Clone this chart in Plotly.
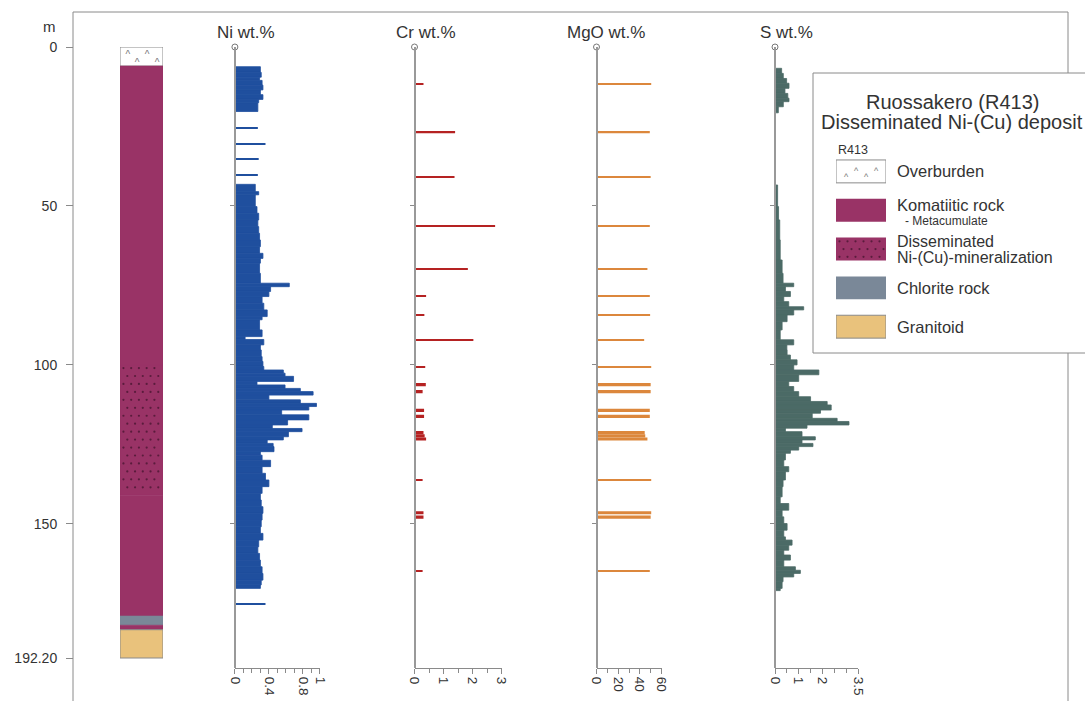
import plotly.graph_objects as go

W, H = 1085, 701


def px(x):
    return x / W


def py(y):
    return 1 - y / H


# ---------------- data ----------------
depth_tickvals = [0, 50, 100, 150, 192.2]
depth_ticktext = ["0", "50", "100", "150", "192.20"]

litho_unit = ["Overburden", "Komatiitic rock", "Disseminated Ni-(Cu)-mineralization",
              "Komatiitic rock", "Chlorite rock", "Komatiitic rock", "Granitoid"]
litho_from = [0.0, 6.0, 100.0, 141.0, 179.0, 181.9, 183.3]
litho_to = [6.0, 100.0, 141.0, 179.0, 181.9, 183.3, 192.2]

# Ni wt.%: upper and lower continuous sections + single samples
ni_top_upper = [6.2, 8.0, 9.5, 10.5, 12.0, 13.5, 15.0, 16.5, 17.5]
ni_wt_upper = [0.30, 0.31, 0.29, 0.32, 0.33, 0.30, 0.33, 0.28, 0.27]
ni_end_upper = 20.3
ni_top_lower = [43.2, 45.5, 46.5, 50.2, 52.3, 54.4, 56.5, 58.6, 60.7, 62.8, 64.9, 66.5,
                68.0, 71.2, 74.3, 75.4, 76.9, 78.5, 80.6, 82.7, 84.8, 85.8, 89.0, 91.1,
                92.0, 93.7, 95.3, 97.4, 98.9, 100.5, 101.6, 102.6, 103.6, 105.2, 106.3,
                107.4, 108.4, 109.5, 111.0, 112.1, 113.1, 114.2, 115.7, 117.3, 118.9,
                120.0, 121.0, 122.6, 123.6, 124.7, 125.7, 127.3, 128.4, 130.0, 132.0,
                134.1, 136.2, 138.3, 140.4, 142.5, 144.6, 146.7, 148.8, 150.9, 153.0,
                155.1, 157.2, 159.3, 161.4, 163.5, 165.6, 167.7, 169.2]
ni_wt_lower = [0.24, 0.28, 0.24, 0.26, 0.28, 0.27, 0.28, 0.29, 0.30, 0.29, 0.33, 0.30,
               0.29, 0.30, 0.64, 0.42, 0.40, 0.32, 0.34, 0.38, 0.32, 0.29, 0.32, 0.12,
               0.34, 0.30, 0.31, 0.32, 0.33, 0.34, 0.57, 0.59, 0.69, 0.26, 0.59,
               0.77, 0.92, 0.40, 0.77, 0.96, 0.87, 0.55, 0.87, 0.62, 0.44,
               0.79, 0.63, 0.57, 0.38, 0.45, 0.46, 0.30, 0.32, 0.42, 0.32,
               0.36, 0.40, 0.32, 0.30, 0.31, 0.33, 0.32, 0.31, 0.30, 0.33,
               0.28, 0.27, 0.29, 0.30, 0.32, 0.33, 0.31, 0.30]
ni_end_lower = 170.3
ni_single_from = [25.25, 30.25, 35.15, 40.15, 175.15]
ni_single_to = [25.55, 30.55, 35.45, 40.45, 175.45]
ni_single_wt = [0.27, 0.36, 0.28, 0.27, 0.36]

# Cr and MgO wt.% (same assay intervals)
chem_from = [11.4, 26.7, 40.6, 56.0, 69.6, 78.1, 84.1, 91.9, 100.5, 105.7,
             107.9, 113.8, 115.7, 120.8, 121.8, 122.8, 135.95, 146.0, 147.4, 164.55]
chem_to = [11.8, 27.1, 41.0, 56.4, 70.0, 78.5, 84.5, 92.3, 100.9, 106.7,
           108.9, 114.8, 116.7, 121.8, 122.8, 123.8, 136.35, 147.0, 148.4, 164.95]
cr_wt = [0.31, 1.40, 1.38, 2.78, 1.84, 0.40, 0.34, 2.03, 0.37, 0.39,
         0.28, 0.33, 0.33, 0.31, 0.35, 0.40, 0.28, 0.31, 0.31, 0.28]
mgo_wt = [50.5, 49.2, 50.0, 49.2, 47.0, 49.2, 49.5, 44.0, 50.5, 50.0,
          50.0, 49.2, 49.2, 44.5, 45.0, 47.0, 50.5, 50.5, 50.0, 49.2]

# S wt.%
s_top_upper = [6.7, 8.3, 9.9, 11.4, 13.0, 14.6, 16.1, 17.2, 18.8]
s_wt_upper = [0.28, 0.35, 0.49, 0.59, 0.42, 0.54, 0.59, 0.35, 0.14]
s_end_upper = 20.7
s_top_lower = [43.4, 50.2, 54.4, 60.7, 67.0, 71.2, 74.3, 75.4, 76.9, 78.5, 80.1, 81.7,
               82.7, 84.3, 86.4, 89.0, 92.1, 93.7, 95.3, 96.9, 98.4, 100.0, 101.6,
               103.1, 105.2, 106.8, 108.4, 110.0, 111.5, 112.6, 114.2, 115.2, 116.8,
               117.8, 118.9, 119.9, 121.0, 122.6, 123.6, 124.7, 125.7, 126.8, 127.8,
               129.9, 132.0, 133.6, 136.2, 138.3, 141.5, 143.6, 145.7, 147.8, 149.9,
               152.0, 154.1, 155.1, 156.7, 158.3, 159.8, 161.4, 163.5, 164.6, 165.6,
               166.7, 168.2, 170.3]
s_wt_lower = [0.11, 0.15, 0.20, 0.22, 0.30, 0.34, 0.79, 0.44, 0.65, 0.37, 0.58, 1.21,
              0.79, 0.51, 0.30, 0.22, 0.79, 0.50, 0.51, 0.65, 0.93, 0.79, 1.85,
              1.00, 0.58, 0.79, 1.00, 1.50, 2.20, 2.37, 1.92, 1.57, 2.62,
              3.12, 1.35, 0.44, 1.14, 1.70, 1.14, 1.60, 1.00, 0.65, 0.44,
              0.37, 0.58, 0.44, 0.34, 0.30, 0.22, 0.58, 0.30, 0.37, 0.51,
              0.37, 0.44, 0.72, 0.58, 0.37, 0.65, 0.37, 0.86, 1.07, 0.79,
              0.34, 0.30, 0.22]
s_end_lower = 171.0

legend_units = ["Overburden", "Komatiitic rock", "Disseminated", "Chlorite rock", "Granitoid"]

# ---------------- styles ----------------
FONT = "Liberation Sans, Arial, Helvetica, sans-serif"
TXT = "#333333"
AXC = "#8a8a8a"
litho_color = {"Overburden": "#ffffff", "Komatiitic rock": "#993366",
               "Disseminated Ni-(Cu)-mineralization": "#993366",
               "Chlorite rock": "#7a8898", "Granitoid": "#e9c27c"}
legend_color = ["#ffffff", "#993366", "#993366", "#7a8898", "#e9c27c"]
NI_C, CR_C, MGO_C, S_C = "#1f4f9e", "#b52222", "#dc873c", "#4b6a66"
DOT_C = "#4a1732"

DEPTH_TOP_PX = 47
PX_PER_M = (658 - 47) / 192.2
AXIS_BOTTOM_PX = 668
y_range = [(AXIS_BOTTOM_PX - DEPTH_TOP_PX) / PX_PER_M, 0]
y_domain = [py(AXIS_BOTTOM_PX), py(DEPTH_TOP_PX)]

panels = [  # (xaxis, yaxis, axis px left, axis px right, range, tickvals, ticktext, minor dtick, title)
    ("x2", "y2", 234.9, 319.9, [0, 1], [0, 0.4, 0.8, 1], ["0", "0.4", "0.8", "1"], 0.1, "Ni wt.%"),
    ("x3", "y3", 414.5, 501.5, [0, 3], [0, 1, 2, 3], ["0", "1", "2", "3"], 0.5, "Cr wt.%"),
    ("x4", "y4", 596.5, 661.5, [0, 60], [0, 20, 40, 60], ["0", "20", "40", "60"], 10, "MgO wt.%"),
    ("x5", "y5", 775.0, 858.0, [0, 3.5], [0, 1, 2, 3.5], ["0", "1", "2", "3.5"], 0.5, "S wt.%"),
]


def sections(tops, end):
    return list(tops), list(tops[1:]) + [end]


def hbar(frm, to, val, color, xa, ya="y", lw=0.0):
    return go.Bar(orientation="h", x=val, base=0,
                  y=[(a + b) / 2 for a, b in zip(frm, to)],
                  width=[b - a for a, b in zip(frm, to)],
                  marker=dict(color=color, line=dict(width=lw, color=color)),
                  xaxis=xa, yaxis=ya, hoverinfo="skip")


fig = go.Figure()

# lithology column
n_l = len(litho_unit)
lcolors = [litho_color[u] for u in litho_unit]
outlined = [u in ("Overburden", "Granitoid") for u in litho_unit]
fig.add_trace(go.Bar(orientation="h", x=[1] * n_l, base=0,
                     y=[(a + b) / 2 for a, b in zip(litho_from, litho_to)],
                     width=[b - a for a, b in zip(litho_from, litho_to)],
                     marker=dict(color=lcolors,
                                 line=dict(width=[1 if o else 0.6 for o in outlined],
                                           color=["#8a8a8a" if o else c for o, c in zip(outlined, lcolors)])),
                     xaxis="x", yaxis="y", hoverinfo="skip"))
# dotted texture of the disseminated mineralization interval
dx, dy = [], []
for u, a, b in zip(litho_unit, litho_from, litho_to):
    if u.startswith("Disseminated"):
        row, d = 0, a + 1.0
        while d < b - 0.5:
            off = 0.0 if row % 2 == 0 else 0.09
            xs = [0.08 + off + 0.18 * k for k in range(5) if 0.08 + off + 0.18 * k < 0.97]
            dx += xs
            dy += [d] * len(xs)
            d += 2.5
            row += 1
fig.add_trace(go.Scatter(x=dx, y=dy, mode="markers", xaxis="x", yaxis="y", hoverinfo="skip",
                         marker=dict(size=2.2, color=DOT_C, opacity=0.8)))
fig.add_trace(go.Scatter(x=[0.18, 0.40, 0.63, 0.86], y=[2.6, 5.2, 2.6, 5.2], mode="text",
                         text=["^"] * 4, textfont=dict(size=10, color="#777777", family=FONT),
                         xaxis="x", yaxis="y", hoverinfo="skip", cliponaxis=False))

# Ni
for tops, vals, end in [(ni_top_upper, ni_wt_upper, ni_end_upper), (ni_top_lower, ni_wt_lower, ni_end_lower)]:
    f, t = sections(tops, end)
    fig.add_trace(hbar(f, t, vals, NI_C, "x2", lw=0.8))
fig.add_trace(hbar(ni_single_from, ni_single_to, ni_single_wt, NI_C, "x2"))
# Cr, MgO
fig.add_trace(hbar(chem_from, chem_to, cr_wt, CR_C, "x3"))
fig.add_trace(hbar(chem_from, chem_to, mgo_wt, MGO_C, "x4"))
# S
for tops, vals, end in [(s_top_upper, s_wt_upper, s_end_upper), (s_top_lower, s_wt_lower, s_end_lower)]:
    f, t = sections(tops, end)
    fig.add_trace(hbar(f, t, vals, S_C, "x5", lw=0.8))

# open circles at the top of each panel axis
for xa, ya, *_ in panels:
    fig.add_trace(go.Scatter(x=[0], y=[0], mode="markers", xaxis=xa, yaxis=ya,
                             marker=dict(symbol="circle-open", size=6, color="#777777", line=dict(width=1)),
                             cliponaxis=False, hoverinfo="skip"))

# legend swatches
fig.add_trace(go.Bar(orientation="h", x=[1] * 5, base=0, y=list(range(5)), width=0.59,
                     marker=dict(color=legend_color, line=dict(width=[1, 0, 0, 0, 1], color="#8a8a8a")),
                     xaxis="x6", yaxis="y6", hoverinfo="skip"))
lx, ly = [], []
for r, yo in enumerate([-0.2, 0.0, 0.2]):
    off = 0.0 if r % 2 == 0 else 0.08
    xs = [0.07 + off + 0.16 * k for k in range(6) if 0.07 + off + 0.16 * k < 0.96]
    lx += xs
    ly += [legend_units.index("Disseminated") + yo] * len(xs)
fig.add_trace(go.Scatter(x=lx, y=ly, mode="markers", xaxis="x6", yaxis="y6", hoverinfo="skip",
                         marker=dict(size=2.2, color=DOT_C, opacity=0.8)))
fig.add_trace(go.Scatter(x=[0.2, 0.4, 0.6, 0.8], y=[0.16, 0.02, 0.16, 0.02], mode="text",
                         text=["^"] * 4, textfont=dict(size=9, color="#777777", family=FONT),
                         xaxis="x6", yaxis="y6", hoverinfo="skip", cliponaxis=False))

layout = dict(
    width=W, height=H, margin=dict(l=0, r=0, t=0, b=0, autoexpand=False),
    paper_bgcolor="white", plot_bgcolor="rgba(0,0,0,0)",
    showlegend=False, barmode="overlay",
    font=dict(family=FONT, color=TXT),
    yaxis=dict(domain=y_domain, range=y_range, anchor="free", position=px(73), automargin=False,
               tickvals=depth_tickvals, ticktext=depth_ticktext, ticks="outside",
               ticklen=7, tickcolor=AXC, tickwidth=1, showline=False, showgrid=False,
               zeroline=False, tickfont=dict(size=14, color=TXT), ticklabelstandoff=6),
    xaxis=dict(domain=[px(120), px(163)], range=[0, 1], visible=False, anchor="y", automargin=False),
    xaxis6=dict(domain=[px(836), px(886)], range=[0, 1], visible=False, anchor="y6", automargin=False),
    yaxis6=dict(domain=[py(346.1), py(152)], range=[4.5, -0.5], visible=False, anchor="x6", automargin=False),
)
for xa, ya, l, r, rng, tv, tt, mdt, title in panels:
    layout["xaxis" + xa[1:]] = dict(
        domain=[px(l), px(r)], range=rng, anchor="y", tickvals=tv, ticktext=tt, automargin=False,
        ticks="outside", ticklen=5, tickcolor=AXC, showline=True, linecolor=AXC, linewidth=1,
        showgrid=False, zeroline=False, tickangle=90, tickfont=dict(size=13.5, color=TXT),
        minor=dict(dtick=mdt, tick0=0, ticks="outside", ticklen=4, tickcolor=AXC, showgrid=False))
    layout["yaxis" + ya[1:]] = dict(
        overlaying="y", anchor="free", position=px(l), range=y_range, side="left", automargin=False,
        tickvals=[50, 100, 150], ticks="outside", ticklen=4, tickcolor=AXC,
        showticklabels=False, showline=True, linecolor="#999999", linewidth=1.5,
        showgrid=False, zeroline=False)
fig.update_layout(**layout)

# outer frame and legend box
fig.add_shape(type="rect", xref="paper", yref="paper", x0=px(73), x1=px(1068), y0=py(730), y1=py(12),
              line=dict(color="#8a8a8a", width=1), fillcolor="rgba(0,0,0,0)", layer="below")
fig.add_shape(type="rect", xref="paper", yref="paper", x0=px(813), x1=px(1110), y0=py(353), y1=py(73),
              line=dict(color="#8a8a8a", width=1), fillcolor="white", layer="below")


def ann(text, x, y, size, xanchor="center", color=TXT):
    fig.add_annotation(text=text, x=px(x), y=py(y), xref="paper", yref="paper", showarrow=False,
                       xanchor=xanchor, yanchor="middle", font=dict(size=size, color=color, family=FONT))


ann("m", 49.5, 27, 15)
for (xa, ya, l, r, rng, tv, tt, mdt, title), cx in zip(panels, [246, 426, 606, 786]):
    ann(title, cx, 32, 17)

ann("Ruossakero (R413)", 952, 101.7, 20)
ann("Disseminated Ni-(Cu) deposit", 952, 122, 20)
ann("R413", 836, 150, 12.5, "left")
ann("Overburden", 895, 171.5, 16.5, "left")
ann("Komatiitic rock", 895, 205, 16.5, "left")
ann("- Metacumulate", 903, 220.5, 12, "left")
ann("Disseminated", 895, 241, 16, "left")
ann("Ni-(Cu)-mineralization", 895, 257.5, 16, "left")
ann("Chlorite rock", 895, 288, 16.5, "left")
ann("Granitoid", 895, 327, 16.5, "left")

fig.write_html("out.html", config={"displayModeBar": False},
               post_script="document.body.style.margin='0';")
